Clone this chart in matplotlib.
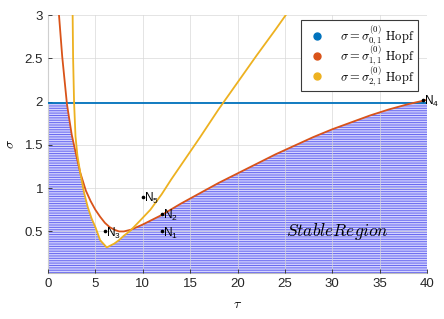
import numpy as np
import matplotlib
matplotlib.use("Agg")
import matplotlib.pyplot as plt
from matplotlib.lines import Line2D

plt.rcParams['font.family'] = ['Liberation Sans', 'DejaVu Sans']
plt.rcParams['mathtext.fontset'] = 'cm'
plt.rcParams['mathtext.rm'] = 'Liberation Sans'
plt.rcParams['hatch.linewidth'] = 0.75

# sigma_{0,1}: horizontal Hopf line
sigma01 = 1.98

# sigma_{1,1} Hopf curve (tau, sigma)
tau11 = [1.16, 1.5, 2.0, 2.5, 3.0, 3.4, 4.0, 4.5, 5.0, 5.5, 6.0, 6.5, 7.0, 7.5, 8.0,
         8.75, 10, 12, 14, 16, 18, 20, 22, 24, 26, 28, 30, 32, 34, 36, 38, 40]
sig11 = [3.0, 2.52, 1.97, 1.62, 1.37, 1.18, 0.97, 0.85, 0.75, 0.67, 0.60, 0.55, 0.52, 0.50, 0.50,
         0.52, 0.58, 0.69, 0.82, 0.94, 1.06, 1.17, 1.28, 1.39, 1.49, 1.59, 1.68, 1.76, 1.84, 1.91, 1.97, 2.02]

# sigma_{2,1} Hopf curve (tau, sigma)
tau21 = [2.6, 2.65, 2.75, 2.9, 3.1, 3.4, 3.8, 4.2, 4.6, 5.0, 5.5, 6.2, 7.0, 7.5, 8.0, 8.7,
         9.5, 10.8, 12.0, 13.0, 14, 16, 18, 20, 22, 24, 25.1]
sig21 = [3.0, 2.5, 2.0, 1.6, 1.38, 1.18, 0.95, 0.78, 0.65, 0.55, 0.40, 0.315, 0.36, 0.40, 0.45, 0.51,
         0.60, 0.75, 0.93, 1.10, 1.26, 1.58, 1.91, 2.22, 2.53, 2.83, 3.0]

# test points
pt_names = ['1', '2', '3', '4', '5']
pt_tau = [12, 12, 6, 39.6, 10]
pt_sig = [0.5, 0.7, 0.5, 2.02, 0.9]

xticks = [0, 5, 10, 15, 20, 25, 30, 35, 40]
yticks = [0.5, 1, 1.5, 2, 2.5, 3]

c_blue = '#0072BD'
c_red = '#D95319'
c_yel = '#EDB120'

fig = plt.figure(figsize=(4.44, 3.19), dpi=100)
ax = fig.add_axes([48 / 444, 46 / 319, 379 / 444, 258 / 319])

# stable region: below all three Hopf boundaries
grid = np.linspace(0, 40, 2001)
top = np.minimum.reduce([
    np.full_like(grid, sigma01),
    np.interp(grid, tau11, sig11, left=np.inf, right=np.inf),
    np.interp(grid, tau21, sig21, left=np.inf, right=np.inf),
])
ax.fill_between(grid, 0, top, facecolor='#d4d4ff', edgecolor='#6a6af0',
                hatch='-------', linewidth=0, zorder=1)

ax.axhline(sigma01, color=c_blue, lw=1.3, zorder=3)
ax.plot(tau11, sig11, color=c_red, lw=1.3, zorder=3)
ax.plot(tau21, sig21, color=c_yel, lw=1.3, zorder=3)

for name, t, s in zip(pt_names, pt_tau, pt_sig):
    ax.plot(t, s, 'o', ms=1.6, color='k', zorder=4, clip_on=False)
    ax.annotate('N$_{%s}$' % name, (t, s), xytext=(0.8, -1.2), textcoords='offset points',
                fontsize=8.5, va='center', ha='left', math_fontfamily='custom',
                annotation_clip=False, zorder=5)

ax.text(30.5, 0.5, r'$Stable Region$', fontsize=12.5, ha='center', va='center', zorder=5)

ax.set_xlim(0, 40)
ax.set_ylim(0.02, 3)
ax.set_xticks(xticks)
ax.set_yticks(yticks)
ax.set_xticklabels([str(v) for v in xticks])
ax.set_yticklabels(['0.5', '1', '1.5', '2', '2.5', '3'])
ax.tick_params(direction='in', length=3, width=0.6, colors='#262626', labelsize=9.5)
ax.grid(True, color='#d8d8d8', lw=0.6, alpha=0.8)
ax.set_axisbelow(False)
for side in ['top', 'right']:
    ax.spines[side].set_visible(False)
for side in ['left', 'bottom']:
    ax.spines[side].set_color('#bdbdbd')
    ax.spines[side].set_linewidth(0.8)

ax.set_xlabel(r'$\tau$', fontsize=10, labelpad=5)
ax.set_ylabel(r'$\sigma$', fontsize=10, labelpad=5)

handles = [Line2D([], [], ls='none', marker='o', ms=5, color=c) for c in (c_blue, c_red, c_yel)]
labels = [r'$\sigma = \sigma_{0,1}^{(0)}\ \mathrm{Hopf}$',
          r'$\sigma = \sigma_{1,1}^{(0)}\ \mathrm{Hopf}$',
          r'$\sigma = \sigma_{2,1}^{(0)}\ \mathrm{Hopf}$']
leg = ax.legend(handles, labels, loc='upper right', bbox_to_anchor=(0.977, 0.981),
                borderaxespad=0, fancybox=False, fontsize=9, handletextpad=0.8,
                labelspacing=-0.3, borderpad=0.3, handlelength=2.0, framealpha=1)
leg.get_frame().set_edgecolor('#3a3a3a')
leg.get_frame().set_linewidth(0.8)

fig.savefig('out.png', dpi=100)
